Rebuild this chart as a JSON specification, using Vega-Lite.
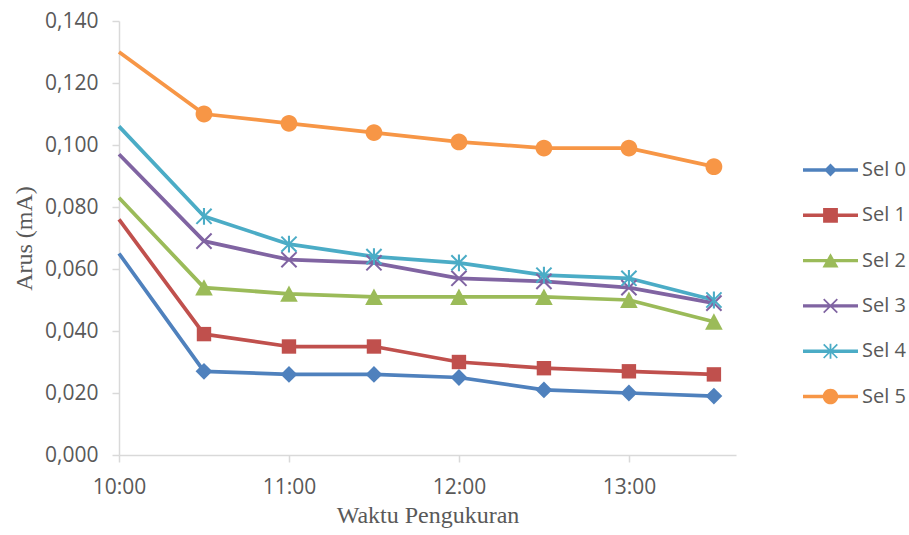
{
  "$schema": "https://vega.github.io/schema/vega-lite/v6.json",
  "width": 617,
  "height": 434,
  "autosize": "none",
  "padding": {"left": 119, "top": 21, "right": 173, "bottom": 80},
  "background": "white",
  "config": {
    "view": {"stroke": null},
    "axis": {
      "domainColor": "#d9d9d9",
      "domainWidth": 1.5,
      "tickColor": "#d9d9d9",
      "tickWidth": 1.5,
      "tickSize": 7,
      "grid": false,
      "labelFont": "Open Sans",
      "labelFontSize": 21,
      "labelColor": "#595959",
      "labelPadding": 14,
      "titleFont": "Liberation Serif",
      "titleFontSize": 24,
      "titleFontWeight": "normal",
      "titleColor": "#595959"
    }
  },
  "data": {
    "values": [
      {"series": "Sel 0", "t": 10.0, "value": 0.065},
      {"series": "Sel 0", "t": 10.5, "value": 0.027},
      {"series": "Sel 0", "t": 11.0, "value": 0.026},
      {"series": "Sel 0", "t": 11.5, "value": 0.026},
      {"series": "Sel 0", "t": 12.0, "value": 0.025},
      {"series": "Sel 0", "t": 12.5, "value": 0.021},
      {"series": "Sel 0", "t": 13.0, "value": 0.020},
      {"series": "Sel 0", "t": 13.5, "value": 0.019},
      {"series": "Sel 1", "t": 10.0, "value": 0.076},
      {"series": "Sel 1", "t": 10.5, "value": 0.039},
      {"series": "Sel 1", "t": 11.0, "value": 0.035},
      {"series": "Sel 1", "t": 11.5, "value": 0.035},
      {"series": "Sel 1", "t": 12.0, "value": 0.030},
      {"series": "Sel 1", "t": 12.5, "value": 0.028},
      {"series": "Sel 1", "t": 13.0, "value": 0.027},
      {"series": "Sel 1", "t": 13.5, "value": 0.026},
      {"series": "Sel 2", "t": 10.0, "value": 0.083},
      {"series": "Sel 2", "t": 10.5, "value": 0.054},
      {"series": "Sel 2", "t": 11.0, "value": 0.052},
      {"series": "Sel 2", "t": 11.5, "value": 0.051},
      {"series": "Sel 2", "t": 12.0, "value": 0.051},
      {"series": "Sel 2", "t": 12.5, "value": 0.051},
      {"series": "Sel 2", "t": 13.0, "value": 0.050},
      {"series": "Sel 2", "t": 13.5, "value": 0.043},
      {"series": "Sel 3", "t": 10.0, "value": 0.097},
      {"series": "Sel 3", "t": 10.5, "value": 0.069},
      {"series": "Sel 3", "t": 11.0, "value": 0.063},
      {"series": "Sel 3", "t": 11.5, "value": 0.062},
      {"series": "Sel 3", "t": 12.0, "value": 0.057},
      {"series": "Sel 3", "t": 12.5, "value": 0.056},
      {"series": "Sel 3", "t": 13.0, "value": 0.054},
      {"series": "Sel 3", "t": 13.5, "value": 0.049},
      {"series": "Sel 4", "t": 10.0, "value": 0.106},
      {"series": "Sel 4", "t": 10.5, "value": 0.077},
      {"series": "Sel 4", "t": 11.0, "value": 0.068},
      {"series": "Sel 4", "t": 11.5, "value": 0.064},
      {"series": "Sel 4", "t": 12.0, "value": 0.062},
      {"series": "Sel 4", "t": 12.5, "value": 0.058},
      {"series": "Sel 4", "t": 13.0, "value": 0.057},
      {"series": "Sel 4", "t": 13.5, "value": 0.050},
      {"series": "Sel 5", "t": 10.0, "value": 0.130},
      {"series": "Sel 5", "t": 10.5, "value": 0.110},
      {"series": "Sel 5", "t": 11.0, "value": 0.107},
      {"series": "Sel 5", "t": 11.5, "value": 0.104},
      {"series": "Sel 5", "t": 12.0, "value": 0.101},
      {"series": "Sel 5", "t": 12.5, "value": 0.099},
      {"series": "Sel 5", "t": 13.0, "value": 0.099},
      {"series": "Sel 5", "t": 13.5, "value": 0.093}
    ]
  },
  "encoding": {
    "x": {
      "field": "t",
      "type": "quantitative",
      "scale": {"domain": [10, 13.63], "nice": false, "zero": false},
      "axis": {
        "values": [10, 11, 12, 13],
        "labelExpr": "floor(datum.value) + ':00'",
        "title": "Waktu Pengukuran",
        "titlePadding": 6,
        "labelFlush": false
      }
    },
    "y": {
      "field": "value",
      "type": "quantitative",
      "scale": {"domain": [0, 0.14], "nice": false},
      "axis": {
        "values": [0, 0.02, 0.04, 0.06, 0.08, 0.1, 0.12, 0.14],
        "labelExpr": "replace(format(datum.value, '.3f'), '.', ',')",
        "title": "Arus (mA)",
        "titlePadding": 8
      }
    }
  },
  "layer": [
    {
      "mark": {"type": "line", "strokeWidth": 3.75, "strokeJoin": "round", "strokeCap": "butt"},
      "encoding": {
        "color": {
          "field": "series",
          "type": "nominal",
          "scale": {
            "domain": ["Sel 0", "Sel 1", "Sel 2", "Sel 3", "Sel 4", "Sel 5"],
            "range": ["#4F81BD", "#C0504D", "#9BBB59", "#8064A2", "#4BACC6", "#F79646"]
          },
          "legend": {
            "orient": "none",
            "legendX": 701.5,
            "legendY": 139,
            "title": null,
            "padding": 0,
            "symbolSize": 400,
            "symbolStrokeWidth": 0,
            "labelOffset": 21.5,
            "rowPadding": 25.3,
            "labelFont": "Open Sans",
            "labelFontSize": 20,
            "labelColor": "#595959",
            "encode": {
              "symbols": {
                "update": {
                  "fill": {"signal": "scale('color', datum.value)"},
                  "stroke": {"value": "transparent"},
                  "strokeWidth": {"value": 0},
                  "opacity": {"value": 1},
                  "shape": {"signal": "datum.value === 'Sel 0' ? 'M-2.75,-0.17H2.75V0.17H-2.75Z M0,-0.64L0.64,0L0,0.64L-0.64,0Z' : datum.value === 'Sel 1' ? 'M-2.75,-0.17H2.75V0.17H-2.75Z M-0.74,-0.74H0.74V0.74H-0.74Z' : datum.value === 'Sel 2' ? 'M-2.75,-0.17H2.75V0.17H-2.75Z M0,-0.74L0.8,0.7H-0.8Z' : datum.value === 'Sel 3' ? 'M-2.75,-0.17H2.75V0.17H-2.75Z M-0.62,-0.74L0.74,0.62L0.62,0.74L-0.74,-0.62Z M0.62,-0.74L0.74,-0.62L-0.62,0.74L-0.74,0.62Z' : datum.value === 'Sel 4' ? 'M-2.75,-0.17H2.75V0.17H-2.75Z M-0.62,-0.74L0.74,0.62L0.62,0.74L-0.74,-0.62Z M0.62,-0.74L0.74,-0.62L-0.62,0.74L-0.74,0.62Z M-0.09,-0.75H0.09V0.75H-0.09Z' : 'M-2.75,-0.17H2.75V0.17H-2.75Z M0.78,0A0.78,0.78,0,1,1,-0.78,0A0.78,0.78,0,1,1,0.78,0Z'"}
                }
              }
            }
          }
        }
      }
    },
    {
      "transform": [
        {"filter": "datum.t > 10"},
        {"calculate": "datum.series", "as": "cell"}
      ],
      "mark": {"type": "point", "filled": true, "opacity": 1, "size": 256, "strokeWidth": 0},
      "encoding": {
        "shape": {
          "field": "cell",
          "type": "nominal",
          "legend": null,
          "scale": {
            "range": [
              "M0,-1.05L1.05,0L0,1.05L-1.05,0Z",
              "M-0.9,-0.9H0.9V0.9H-0.9Z",
              "M0,-1.05L1.1,1H-1.1Z",
              "M-0.86,-1.04L1.04,0.86L0.86,1.04L-1.04,-0.86Z M0.86,-1.04L1.04,-0.86L-0.86,1.04L-1.04,0.86Z",
              "M-0.86,-1.04L1.04,0.86L0.86,1.04L-1.04,-0.86Z M0.86,-1.04L1.04,-0.86L-0.86,1.04L-1.04,0.86Z M-0.13,-1.05H0.13V1.05H-0.13Z",
              "M1.05,0A1.05,1.05,0,1,1,-1.05,0A1.05,1.05,0,1,1,1.05,0Z"
            ]
          }
        },
        "fill": {
          "field": "cell",
          "type": "nominal",
          "legend": null,
          "scale": {
            "range": ["#4F81BD", "#C0504D", "#9BBB59", "#8064A2", "#4BACC6", "#F79646"]
          }
        }
      }
    }
  ]
}
